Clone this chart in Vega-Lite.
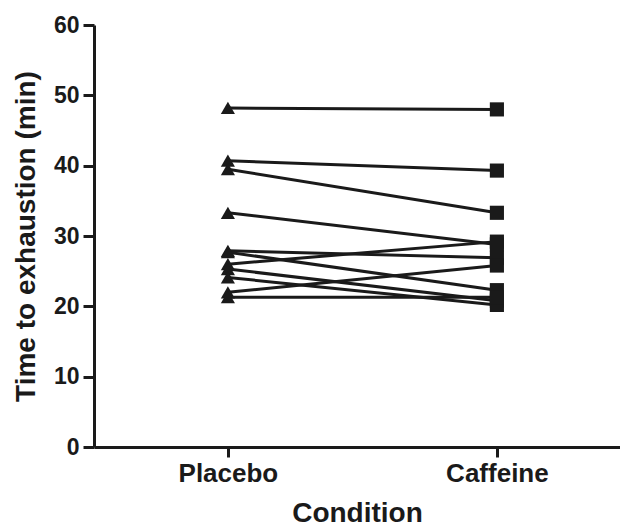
{
  "$schema": "https://vega.github.io/schema/vega-lite/v6.json",
  "width": 526,
  "height": 422,
  "autosize": {"type": "none"},
  "padding": {"left": 94, "top": 25, "right": 0, "bottom": 79},
  "background": "white",
  "config": {
    "view": {"stroke": null},
    "font": "Liberation Sans",
    "axis": {
      "domainColor": "#1a1a1a",
      "tickColor": "#1a1a1a",
      "labelColor": "#1a1a1a",
      "titleColor": "#1a1a1a",
      "labelFont": "Liberation Sans",
      "titleFont": "Liberation Sans",
      "labelFontWeight": "bold",
      "titleFontWeight": "bold",
      "grid": false,
      "domainWidth": 3,
      "tickWidth": 3
    }
  },
  "data": {
    "values": [
      {"subject": 1, "condition": "Placebo", "time": 48.2},
      {"subject": 1, "condition": "Caffeine", "time": 48.0},
      {"subject": 2, "condition": "Placebo", "time": 40.7},
      {"subject": 2, "condition": "Caffeine", "time": 39.3},
      {"subject": 3, "condition": "Placebo", "time": 39.5},
      {"subject": 3, "condition": "Caffeine", "time": 33.3},
      {"subject": 4, "condition": "Placebo", "time": 33.3},
      {"subject": 4, "condition": "Caffeine", "time": 28.8},
      {"subject": 5, "condition": "Placebo", "time": 27.9},
      {"subject": 5, "condition": "Caffeine", "time": 26.9},
      {"subject": 6, "condition": "Placebo", "time": 27.7},
      {"subject": 6, "condition": "Caffeine", "time": 22.3},
      {"subject": 7, "condition": "Placebo", "time": 26.0},
      {"subject": 7, "condition": "Caffeine", "time": 29.2},
      {"subject": 8, "condition": "Placebo", "time": 25.3},
      {"subject": 8, "condition": "Caffeine", "time": 20.8},
      {"subject": 9, "condition": "Placebo", "time": 24.1},
      {"subject": 9, "condition": "Caffeine", "time": 20.2},
      {"subject": 10, "condition": "Placebo", "time": 22.0},
      {"subject": 10, "condition": "Caffeine", "time": 25.8},
      {"subject": 11, "condition": "Placebo", "time": 21.3},
      {"subject": 11, "condition": "Caffeine", "time": 21.3}
    ]
  },
  "encoding": {
    "x": {
      "field": "condition",
      "type": "nominal",
      "sort": ["Placebo", "Caffeine"],
      "scale": {"type": "point", "domain": ["Placebo", "Caffeine"], "padding": 0.4777, "align": 0.521},
      "axis": {
        "title": "Condition",
        "labelAngle": 0,
        "labelFontSize": 26,
        "titleFontSize": 28,
        "tickSize": 10,
        "labelPadding": 3,
        "titlePadding": 13
      }
    },
    "y": {
      "field": "time",
      "type": "quantitative",
      "scale": {"domain": [0, 60], "nice": false},
      "axis": {
        "title": "Time to exhaustion (min)",
        "values": [0, 10, 20, 30, 40, 50, 60],
        "labelFontSize": 23,
        "titleFontSize": 28,
        "tickSize": 11,
        "labelPadding": 4,
        "titlePadding": 13
      }
    }
  },
  "layer": [
    {
      "mark": {"type": "line", "color": "#1a1a1a", "strokeWidth": 3},
      "encoding": {"detail": {"field": "subject", "type": "nominal"}}
    },
    {
      "mark": {"type": "point", "filled": true, "opacity": 1, "color": "#1a1a1a", "size": 200},
      "encoding": {
        "shape": {
          "field": "condition",
          "type": "nominal",
          "scale": {"domain": ["Placebo", "Caffeine"], "range": ["triangle-up", "square"]},
          "legend": null
        }
      }
    }
  ]
}
